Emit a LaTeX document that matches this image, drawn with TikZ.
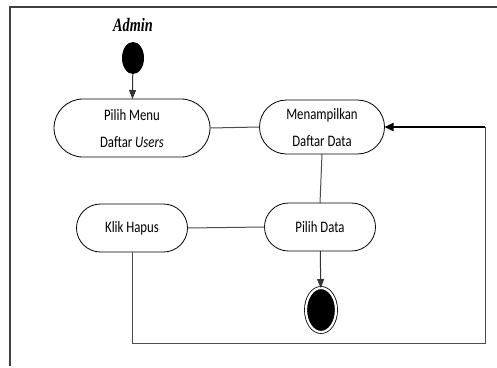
\documentclass[tikz,border=0pt]{standalone}
\usepackage{fontspec}
\setmainfont{Carlito}[FakeStretch=0.8]
\newfontfamily\adminfont{Liberation Serif}[FakeStretch=0.75]
\usetikzlibrary{shapes.misc,shapes.geometric,arrows.meta}
\begin{document}
\begin{tikzpicture}[x=1pt,y=-1pt,inner sep=0pt,outer sep=0pt,
actbox/.style={draw,rounded rectangle,line width=0.8pt,align=center,font=\fontsize{16}{27}\selectfont},
conn/.style={draw=black!70,line width=1pt},
flow/.style={draw=black!80,line width=1pt,-{Triangle[width=7pt,length=9pt]}},
back/.style={draw,line width=2pt,-{Triangle[width=8pt,length=9pt]}}]
\useasboundingbox (0,0) rectangle (497,367);
\draw[black!75,line width=1.2pt] (10,366) -- (10,7) -- (497,7);
\draw (133,25) node[font=\adminfont\fontsize{19}{19}\selectfont\bfseries\itshape] (admin) {Admin};
\draw (133,58) node[ellipse,fill=black,minimum width=22pt,minimum height=32pt] (start) {};
\draw (132,128) node[actbox,minimum width=156pt,minimum height=58pt] (menu) {Pilih Menu\\Daftar \textit{Users}};
\draw (322,127) node[actbox,minimum width=125pt,minimum height=54pt] (tampil) {Menampilkan\\Daftar Data};
\draw (320,227) node[actbox,minimum width=111pt,minimum height=48pt] (pilih) {Pilih Data};
\draw (132,228) node[actbox,minimum width=111pt,minimum height=48pt] (hapus) {Klik Hapus};
\draw (321,310) node[ellipse,draw,line width=0.8pt,double=white,double distance=2.2pt,fill=black,minimum width=30pt,minimum height=44pt] (stop) {};
\coordinate (loop) at (485,343);
\coordinate (turn) at (485,127);
\draw[flow] (start) -- (menu);
\draw[conn] (menu.east) -- (tampil.west);
\draw[conn] (tampil.south) -- (pilih.north);
\draw[conn] (pilih.west) -- (hapus.east);
\draw[flow] (pilih) -- (stop);
\draw[conn] (hapus.south) |- (loop) -- (turn);
\draw[back] (turn) -- (tampil.east);
\end{tikzpicture}
\end{document}
